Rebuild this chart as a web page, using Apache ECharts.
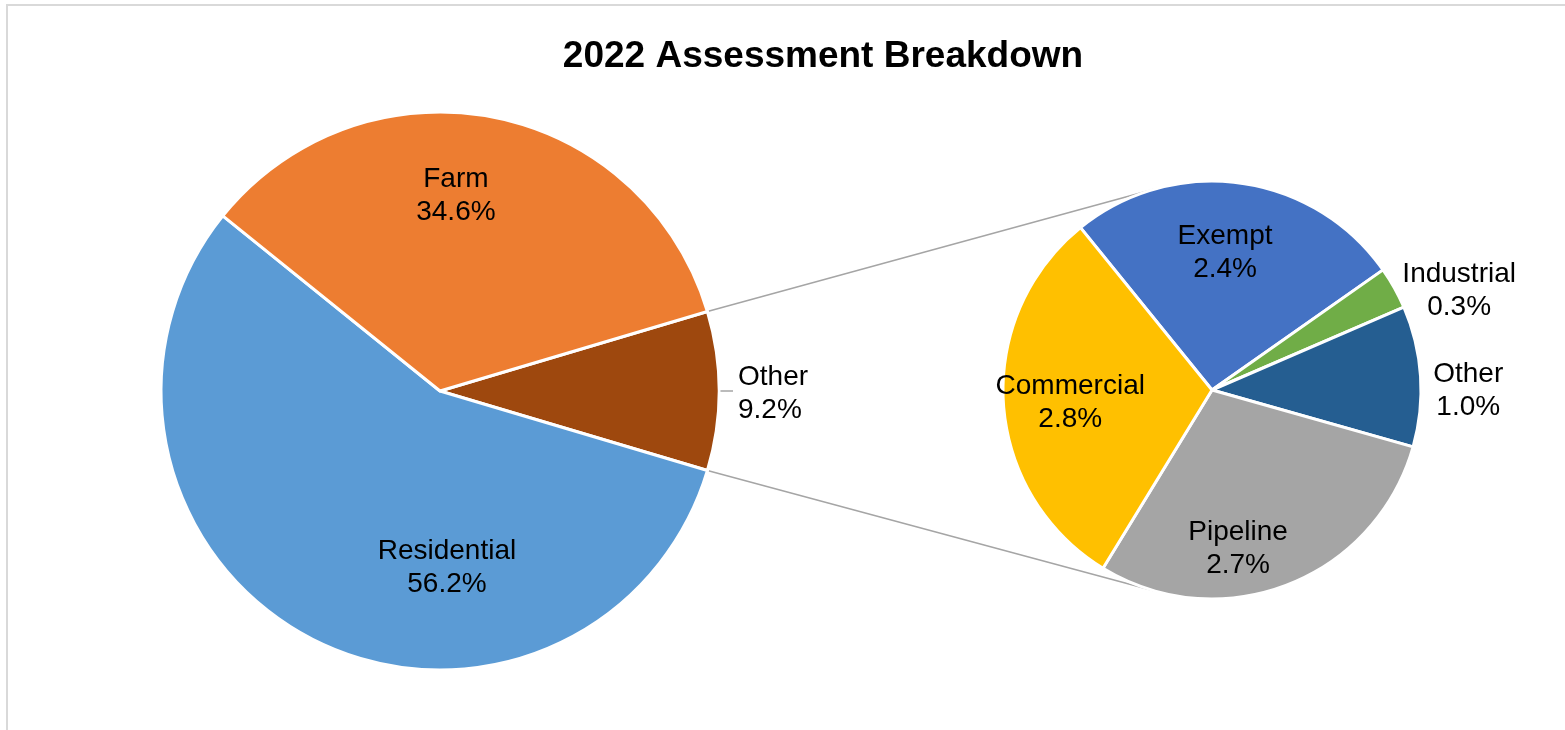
<!DOCTYPE html>
<html>
<head>
<meta charset="utf-8">
<title>2022 Assessment Breakdown</title>
<script src="https://cdn.jsdelivr.net/npm/echarts@6/dist/echarts.min.js"></script>
<style>
  html, body { margin: 0; padding: 0; background: #ffffff; }
  #chart { width: 1565px; height: 730px; }
</style>
</head>
<body>
<div id="chart"></div>
<script>
// Share of total assessment, in percent
const mainCategories = ['Other', 'Residential', 'Farm'];
const mainValues = [9.2, 56.2, 34.6];

// Breakdown of the "Other" share
const detailCategories = ['Exempt', 'Industrial', 'Other', 'Pipeline', 'Commercial'];
const detailValues = [2.4, 0.3, 1.0, 2.7, 2.8];

const titleText = '2022 Assessment Breakdown';

// Styling
const mainColors = ['#9E480E', '#5B9BD5', '#ED7D31'];
const detailColors = ['#4472C4', '#70AD47', '#255E91', '#A5A5A5', '#FFC000'];
const FONT = '"Liberation Sans", Arial, sans-serif';

// Pie geometry in pixels
const MAIN = { cx: 440, cy: 391, r: 279 };
const DETAIL = { cx: 1212, cy: 390, r: 209 };
const DETAIL_START_ANGLE = 129;
const LABEL_DROP = 3;

// Label anchors: [angle in degrees, distance from centre as a multiple of the radius]
const mainLabelSpots = [null, [272.3, 0.623], [85.4, 0.711]];
const detailLabelSpots = [[84.7, 0.676], [22.5, 1.28], [0.45, 1.226], [279.5, 0.756], [184.1, 0.68]];

const sum = arr => arr.reduce((a, b) => a + b, 0);
const rad = d => d * Math.PI / 180;

// The split-off slice is centred on the 3 o'clock direction
const mainTotal = sum(mainValues);
const otherSweep = mainValues[0] / mainTotal * 360;
const mainStartAngle = otherSweep / 2;

function pct(v) { return v.toFixed(1) + '%'; }

function spotLayout(geom, spots) {
  return function (params) {
    const s = spots[params.dataIndex];
    if (!s) return { dy: LABEL_DROP };
    const a = rad(s[0]);
    return {
      x: geom.cx + geom.r * s[1] * Math.cos(a),
      y: geom.cy - geom.r * s[1] * Math.sin(a) + LABEL_DROP,
      align: 'center',
      verticalAlign: 'middle'
    };
  };
}

// Connector lines: from the edges of the split-off slice, tangent to the detail pie
function tangentPoint(px, py, upper) {
  const vx = DETAIL.cx - px, vy = DETAIL.cy - py;
  const d = Math.hypot(vx, vy);
  const theta = Math.atan2(vy, vx);
  const beta = Math.asin(DETAIL.r / d);
  const len = Math.sqrt(d * d - DETAIL.r * DETAIL.r);
  const ang = upper ? theta - beta : theta + beta;
  return [px + len * Math.cos(ang), py + len * Math.sin(ang)];
}
function edgePoint(angleDeg) {
  return [MAIN.cx + MAIN.r * Math.cos(rad(angleDeg)), MAIN.cy - MAIN.r * Math.sin(rad(angleDeg))];
}
const topStart = edgePoint(mainStartAngle);
const botStart = edgePoint(-mainStartAngle);
const topEnd = tangentPoint(topStart[0], topStart[1], true);
const botEnd = tangentPoint(botStart[0], botStart[1], false);

const labelText = {
  color: '#000000',
  fontFamily: FONT,
  fontSize: 28,
  lineHeight: 33
};

const chart = echarts.init(document.getElementById('chart'), null, { renderer: 'canvas' });

chart.setOption({
  backgroundColor: '#ffffff',
  animation: false,
  title: {
    text: titleText,
    left: 818,
    top: 33,
    textAlign: 'center',
    textStyle: { fontFamily: FONT, fontSize: 37, fontWeight: 'bold', color: '#000000' }
  },
  graphic: [
    {
      type: 'rect',
      shape: { x: 7, y: 5, width: 1700, height: 900 },
      style: { fill: null, stroke: '#D9D9D9', lineWidth: 2 },
      silent: true
    },
    {
      type: 'line',
      shape: { x1: topStart[0], y1: topStart[1], x2: topEnd[0], y2: topEnd[1] },
      style: { stroke: '#A5A5A5', lineWidth: 1.5 },
      silent: true
    },
    {
      type: 'line',
      shape: { x1: botStart[0], y1: botStart[1], x2: botEnd[0], y2: botEnd[1] },
      style: { stroke: '#A5A5A5', lineWidth: 1.5 },
      silent: true
    }
  ],
  series: [
    {
      type: 'pie',
      center: [MAIN.cx, MAIN.cy],
      radius: [0, MAIN.r],
      startAngle: mainStartAngle,
      clockwise: true,
      avoidLabelOverlap: false,
      itemStyle: { borderColor: '#ffffff', borderWidth: 3 },
      data: mainCategories.map((name, i) => ({
        name,
        value: mainValues[i],
        itemStyle: { color: mainColors[i] },
        label: { position: i === 0 ? 'outside' : 'inside' },
        labelLine: { show: i === 0 }
      })),
      label: Object.assign({
        formatter: p => p.name + '\n' + pct(p.value)
      }, labelText),
      labelLine: {
        length: 4,
        length2: 10,
        lineStyle: { color: '#A5A5A5', width: 1.5 }
      },
      labelLayout: spotLayout(MAIN, mainLabelSpots),
      emphasis: { disabled: true }
    },
    {
      type: 'pie',
      center: [DETAIL.cx, DETAIL.cy],
      radius: [0, DETAIL.r],
      startAngle: DETAIL_START_ANGLE,
      clockwise: true,
      avoidLabelOverlap: false,
      itemStyle: { borderColor: '#ffffff', borderWidth: 3 },
      data: detailCategories.map((name, i) => ({
        name,
        value: detailValues[i],
        itemStyle: { color: detailColors[i] }
      })),
      label: Object.assign({
        position: 'inside',
        formatter: p => p.name + '\n' + pct(p.value)
      }, labelText),
      labelLine: { show: false },
      labelLayout: spotLayout(DETAIL, detailLabelSpots),
      emphasis: { disabled: true }
    }
  ]
});
</script>
</body>
</html>
